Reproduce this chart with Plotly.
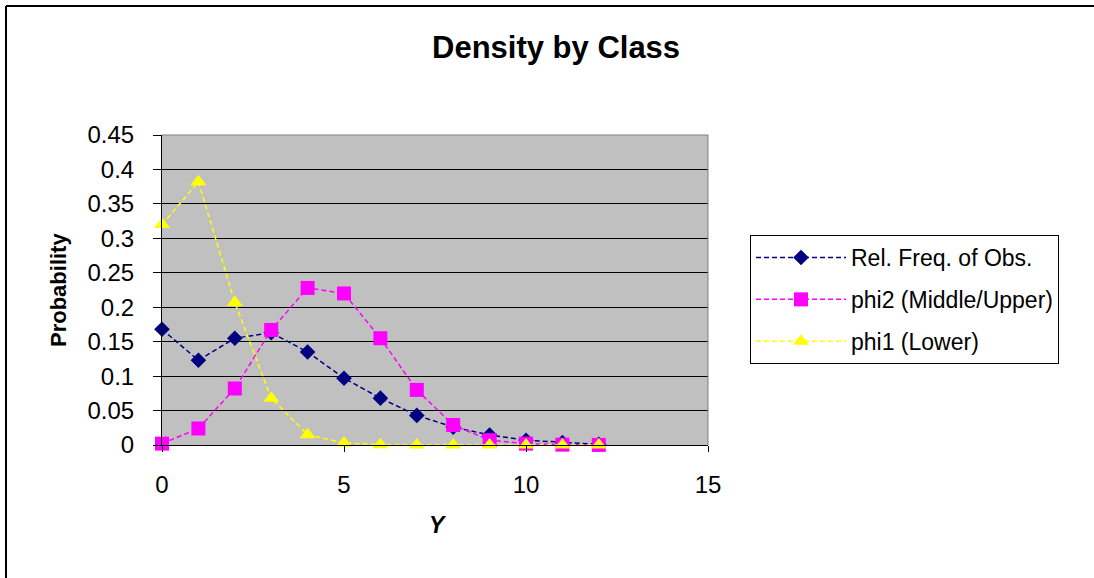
import plotly.graph_objects as go

# Outcome values
y_vals = [0, 1, 2, 3, 4, 5, 6, 7, 8, 9, 10, 11, 12]

# Observed relative frequencies and class densities
rel_freq = [0.168, 0.123, 0.155, 0.163, 0.135, 0.097, 0.068, 0.043, 0.026,
            0.0145, 0.007, 0.0035, 0.001]
phi2 = [0.002, 0.024, 0.082, 0.167, 0.228, 0.220, 0.155, 0.080, 0.029,
        0.007, 0.002, 0.0005, 0.0001]
phi1 = [0.320, 0.382, 0.207, 0.068, 0.015, 0.003, 0.0005, 0.0001, 0.0,
        0.0, 0.0, 0.0, 0.0]

series_names = ["Rel. Freq. of Obs.", "phi2 (Middle/Upper)", "phi1 (Lower)"]

y_ticks = [0, 0.05, 0.1, 0.15, 0.2, 0.25, 0.3, 0.35, 0.4, 0.45]
y_tick_text = ["0", "0.05", "0.1", "0.15", "0.2", "0.25", "0.3", "0.35", "0.4", "0.45"]
x_ticks = [0, 5, 10, 15]

FONT = "Liberation Sans, Arial, sans-serif"

# figure geometry (pixels)
W, H = 1094, 578
L, R, T, B = 162, 386, 135, 133
plot_w = W - L - R
plot_h = H - T - B


def px_x(px):
    return (px - L) / plot_w


def px_y(py):
    return (H - B - py) / plot_h


fig = go.Figure()

styles = [
    dict(color="#000080", symbol="diamond", size=12),
    dict(color="#FF00FF", symbol="square", size=14),
    dict(color="#FFFF00", symbol="triangle-up", size=14),
]
for name, vals, st in zip(series_names, [rel_freq, phi2, phi1], styles):
    fig.add_trace(go.Scatter(
        x=y_vals, y=vals, name=name, mode="lines+markers",
        line=dict(color=st["color"], width=1.5, dash="5px,3px"),
        marker=dict(color=st["color"], symbol=st["symbol"], size=st["size"],
                    line=dict(width=0)),
        cliponaxis=False, legendgroup=name,
    ))

fig.update_layout(
    width=W, height=H,
    margin=dict(l=L, r=R, t=T, b=B, pad=0),
    paper_bgcolor="white",
    plot_bgcolor="#C0C0C0",
    font=dict(family=FONT, color="black", size=22),
    showlegend=True,
    legend=dict(
        x=px_x(750), y=px_y(235), xanchor="left", yanchor="top",
        bordercolor="black", borderwidth=1, bgcolor="white",
        font=dict(family=FONT, size=23, color="black"),
        tracegroupgap=9, itemwidth=90,
    ),
    xaxis=dict(
        range=[0, 15], tickvals=x_ticks, showgrid=False, zeroline=False,
        showline=True, linecolor="black", linewidth=1,
        ticks="outside", ticklen=6, tickcolor="black",
        ticklabelstandoff=12,
        tickfont=dict(family=FONT, size=24),
    ),
    yaxis=dict(
        range=[0, 0.45], tickvals=y_ticks, ticktext=y_tick_text,
        showgrid=True, gridcolor="black", gridwidth=1, zeroline=False,
        showline=True, linecolor="black", linewidth=1,
        ticks="outside", ticklen=8, tickcolor="black",
        ticklabelstandoff=14,
        tickfont=dict(family=FONT, size=24),
    ),
    annotations=[
        dict(text="<b>Density by Class</b>", x=px_x(556), y=px_y(48),
             xref="paper", yref="paper", showarrow=False,
             xanchor="center", yanchor="middle",
             font=dict(family=FONT, size=31)),
        dict(text="<b>Probability</b>", x=px_x(58), y=px_y(290),
             xref="paper", yref="paper", showarrow=False, textangle=-90,
             xanchor="center", yanchor="middle",
             font=dict(family=FONT, size=22)),
        dict(text="<b><i>Y</i></b>", x=px_x(438), y=px_y(525),
             xref="paper", yref="paper", showarrow=False,
             xanchor="center", yanchor="middle",
             font=dict(family=FONT, size=23)),
    ],
    shapes=[
        # plot area border (top and right)
        dict(type="line", xref="paper", yref="paper", x0=0, x1=1, y0=1, y1=1,
             line=dict(color="#808080", width=1), layer="above"),
        dict(type="line", xref="paper", yref="paper", x0=1, x1=1, y0=0, y1=1,
             line=dict(color="#808080", width=1), layer="above"),
        # chart frame, top and left edges
        dict(type="line", xref="paper", yref="paper",
             x0=px_x(6), x1=px_x(1094), y0=px_y(6), y1=px_y(6),
             line=dict(color="black", width=2), layer="above"),
        dict(type="line", xref="paper", yref="paper",
             x0=px_x(6), x1=px_x(6), y0=px_y(6), y1=px_y(578),
             line=dict(color="black", width=2), layer="above"),
    ],
)

fig.write_html("out.html")
